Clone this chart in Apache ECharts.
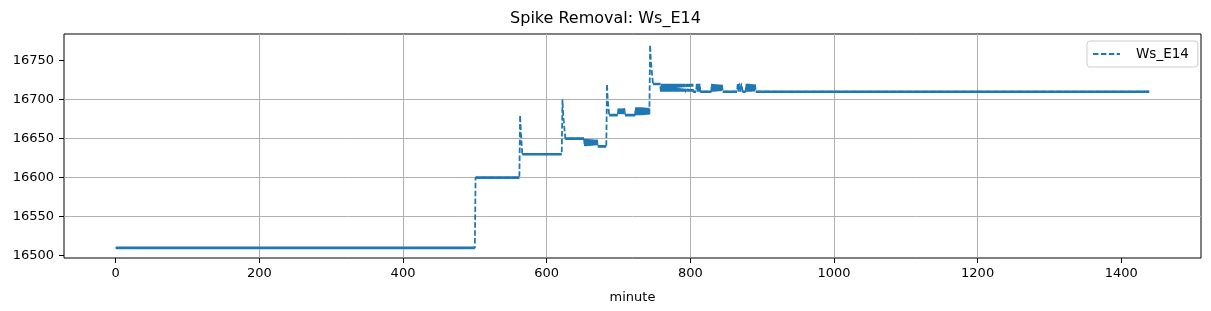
<!DOCTYPE html>
<html><head><meta charset="utf-8">
<script src="https://cdn.jsdelivr.net/npm/echarts@6/dist/echarts.min.js"></script>
<style>html,body{margin:0;padding:0;background:#fff}#c{width:1211px;height:311px}</style>
</head><body><div id="c"></div>
<script>
const chartTitle = 'Spike Removal: Ws_E14';
const seriesName = 'Ws_E14';
const xLabel = 'minute';
const xTicks = [0, 200, 400, 600, 800, 1000, 1200, 1400];
const yTicks = [16500, 16550, 16600, 16650, 16700, 16750];

const minutes = [
  0, 500, 501, 562, 563, 564, 565, 566, 621, 622, 623, 624, 625, 626, 652,
  653, 654, 655, 656, 657, 658, 659, 660, 661, 662, 663, 664, 665, 666, 667, 668, 669, 670, 671, 672,
  683, 684, 685, 686, 687, 699,
  700, 701, 702, 703, 704, 705, 706, 707, 708, 709,
  723, 724, 725, 726, 727, 728, 729, 730, 731, 732, 733, 734, 735, 736, 737, 738, 739, 740, 741, 742, 743,
  744, 745, 746, 747, 748, 758,
  759, 760, 761, 762, 763, 764, 765, 766, 767, 768, 769, 770, 771, 772, 773, 774, 775,
  776, 777, 778, 779, 780, 781, 782, 783, 784, 785, 786, 787, 788, 789, 790, 791, 792,
  793, 794, 795, 796, 797, 798, 799, 800, 801, 802, 803, 804,
  808, 809, 810, 811, 812, 813, 814,
  829, 830, 831, 832, 833, 834, 835, 836, 837, 838, 839, 840, 841, 842, 843, 844, 845,
  865, 866, 867, 868, 869, 870, 871, 872, 873,
  877, 878, 879, 880, 881, 882, 883, 884, 885, 886, 887, 888, 889, 890, 891,
  1439
];
const values = [
  16510, 16510, 16600, 16600, 16680, 16660, 16645, 16630, 16630, 16700, 16680, 16670, 16660, 16650, 16650,
  16640, 16650, 16640, 16650, 16640, 16650, 16640, 16650, 16640, 16650, 16640, 16650, 16640, 16650, 16640, 16650, 16640, 16650, 16640, 16640,
  16640, 16720, 16700, 16690, 16680, 16680,
  16690, 16680, 16690, 16680, 16690, 16680, 16690, 16680, 16690, 16680,
  16680, 16690, 16680, 16690, 16680, 16690, 16680, 16690, 16680, 16690, 16680, 16690, 16680, 16690, 16680, 16690, 16680, 16690, 16680, 16690, 16680,
  16770, 16750, 16740, 16730, 16720, 16720,
  16710, 16720, 16710, 16720, 16710, 16720, 16710, 16720, 16710, 16720, 16710, 16720, 16710, 16720, 16710, 16720, 16710,
  16720, 16710, 16720, 16710, 16720, 16710, 16720, 16710, 16720, 16710, 16720, 16710, 16720, 16710, 16720, 16710, 16720,
  16710, 16710, 16720, 16710, 16720, 16710, 16720, 16710, 16720, 16710, 16720, 16710,
  16710, 16720, 16710, 16720, 16710, 16720, 16710,
  16710, 16720, 16710, 16720, 16710, 16720, 16710, 16720, 16710, 16720, 16710, 16720, 16710, 16720, 16710, 16720, 16710,
  16710, 16720, 16710, 16720, 16720, 16710, 16720, 16720, 16710,
  16710, 16720, 16710, 16720, 16710, 16720, 16710, 16720, 16710, 16720, 16710, 16720, 16710, 16720, 16710,
  16710
];

const blue = '#1f77b4';
const fullData = minutes.map((m, i) => [m, values[i]]);
const flatData = [];
for (let i = 0; i < minutes.length - 1; i++) {
  if (values[i] === values[i + 1]) {
    flatData.push([minutes[i], values[i]], [minutes[i + 1], values[i + 1]], [minutes[i + 1], null]);
  }
}

const chart = echarts.init(document.getElementById('c'), null, {renderer: 'canvas'});
const font = 'DejaVu Sans';
const tickFmt = (ticks) => (v) => (ticks.indexOf(v) >= 0 ? String(v) : '');
chart.setOption({
  animation: false,
  textStyle: {fontFamily: font},
  title: {
    text: chartTitle, left: 'center', top: 6,
    textStyle: {fontSize: 16, fontWeight: 'normal', color: '#000', fontFamily: font}
  },
  legend: {
    data: [seriesName], left: 1087, top: 41, padding: [6, 9, 6, 5],
    itemWidth: 27, itemHeight: 14,
    itemStyle: {opacity: 0},
    backgroundColor: 'rgba(255,255,255,0.8)', borderColor: '#cccccc', borderWidth: 1, borderRadius: 3,
    textStyle: {fontSize: 13.5, color: '#000', fontFamily: font, padding: [0, 0, 0, 11]}
  },
  grid: {left: 64, top: 34, width: 1137, height: 224, show: true, borderColor: '#000', borderWidth: 1, backgroundColor: '#fff'},
  xAxis: {
    type: 'value', min: -72, max: 1511, minInterval: 200, maxInterval: 200,
    name: xLabel, nameLocation: 'middle', nameGap: 33,
    nameTextStyle: {fontSize: 13, color: '#000', fontFamily: font},
    axisLine: {show: false, onZero: false},
    axisTick: {show: true, length: 5, lineStyle: {color: '#000', width: 1}, customValues: xTicks},
    axisLabel: {color: '#000', fontSize: 13, margin: 9, fontFamily: font, formatter: tickFmt(xTicks)},
    splitLine: {show: true, showMinLine: false, showMaxLine: false, lineStyle: {color: '#b0b0b0', width: 1}}
  },
  yAxis: {
    type: 'value', min: 16497, max: 16784, minInterval: 50, maxInterval: 50,
    axisLine: {show: false, onZero: false},
    axisTick: {show: true, length: 5, lineStyle: {color: '#000', width: 1}, customValues: yTicks},
    axisLabel: {color: '#000', fontSize: 13, margin: 10, fontFamily: font, formatter: tickFmt(yTicks)},
    splitLine: {show: true, showMinLine: false, showMaxLine: false, lineStyle: {color: '#b0b0b0', width: 1}}
  },
  series: [
    {
      name: 'flat', type: 'line', data: flatData, symbol: 'none', showSymbol: false, silent: true,
      connectNulls: false, lineStyle: {color: blue, width: 2.6, type: 'solid'}, itemStyle: {color: blue}, z: 2
    },
    {
      name: seriesName, type: 'line', data: fullData, symbol: 'none', showSymbol: false,
      lineStyle: {color: blue, width: 1.8, type: [5.5, 2.4]}, itemStyle: {color: blue}, z: 3
    }
  ]
});
</script>
</body></html>
